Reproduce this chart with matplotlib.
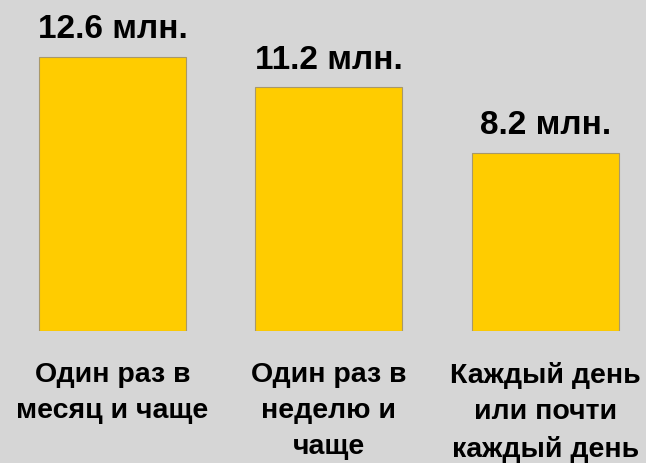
import numpy as np
import matplotlib.pyplot as plt

plt.rcParams['font.family'] = ['Liberation Sans', 'DejaVu Sans']

# Аудитория по частоте
categories = ['Один раз в\nмесяц и чаще', 'Один раз в\nнеделю и\nчаще', 'Каждый день\nили почти\nкаждый день']
values = [12.6, 11.2, 8.2]
value_labels = ['12.6 млн.', '11.2 млн.', '8.2 млн.']

bg = '#D6D6D6'
bar_color = '#FFCC00'

fig = plt.figure(figsize=(6.46, 4.63), dpi=100, facecolor=bg)
# axes spans whole width; baseline at 331 px from top
ax = fig.add_axes([0, (463 - 331) / 463, 1, 331 / 463])
ax.set_facecolor(bg)

x = np.arange(len(values))
px = 216.4  # pixels per category step
ax.bar(x, values, width=147 / px, color=bar_color, edgecolor='#A8986A', linewidth=0.8)

ax.set_xlim(-112.5 / px, (646 - 112.5) / px)
ax.set_ylim(0, 331 / (274 / 12.6))

for xi, v, lab in zip(x, values, value_labels):
    ax.annotate(lab, (xi, v), xytext=(0, 13.5), textcoords='offset points',
                ha='center', va='baseline', fontsize=24, fontweight='bold')

ax.set_xticks(x)
ax.set_xticklabels(categories, fontsize=20.5, fontweight='bold', linespacing=1.5)
ax.tick_params(axis='x', length=0, pad=22.5)
ax.set_yticks([])
for s in ax.spines.values():
    s.set_visible(False)

fig.savefig('out.png', dpi=100, facecolor=bg)
